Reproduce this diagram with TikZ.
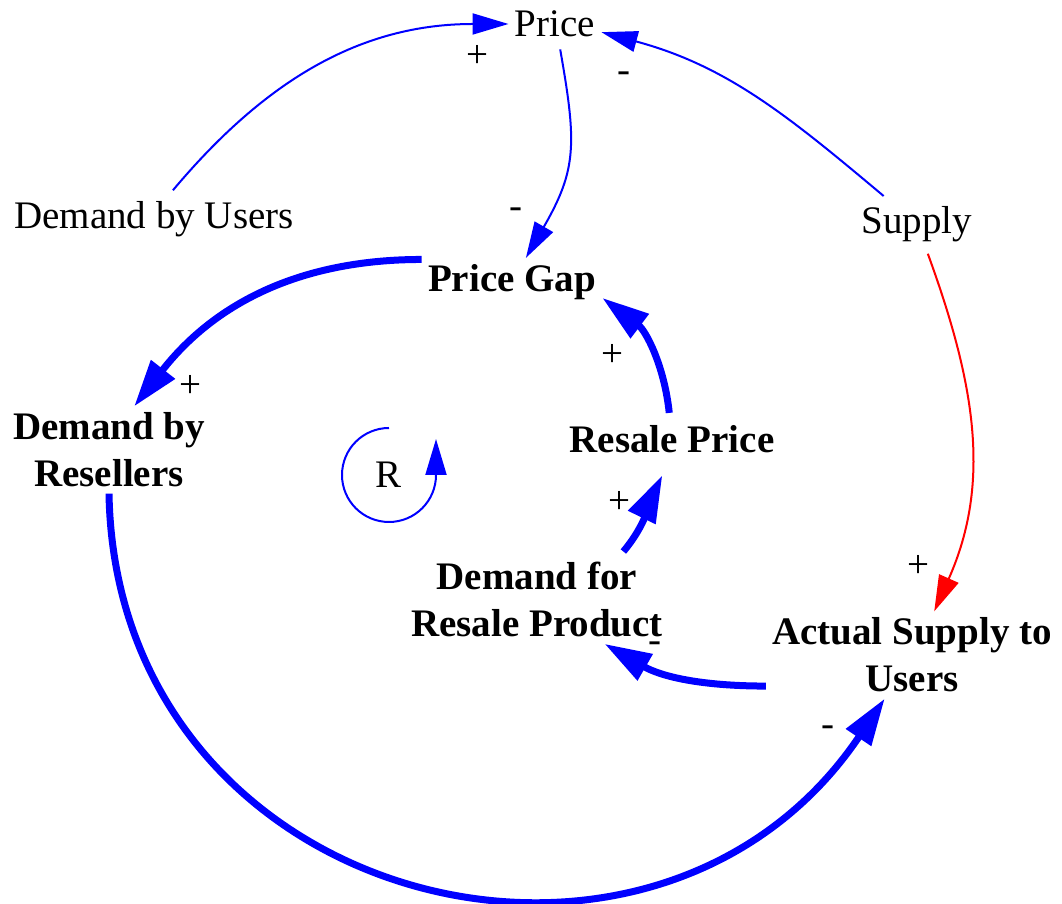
\documentclass[tikz,border=0pt]{standalone}
\usepackage{fontspec}
\setmainfont{Liberation Serif}
\usetikzlibrary{arrows.meta}
\newcommand\diagfont{\fontsize{19.5}{23.5}\selectfont}

\begin{document}
\begin{tikzpicture}[x=0.5pt,y=0.5pt,
        var/.style={font=\diagfont,inner sep=3pt,align=center},
        bvar/.style={var,font=\diagfont\bfseries},
        sign/.style={font=\diagfont,inner sep=1pt,text height=10pt,text depth=0pt},
        link/.style={color=blue,line width=1pt,shorten <=3pt,-{Triangle[length=18pt,width=10.5pt]}},
        rlink/.style={link,color=red},
        blink/.style={color=blue,line width=3.5pt,-{Triangle[length=23.5pt,width=14.5pt]}}]
    \useasboundingbox (0,0) rectangle (1062,904);

    \node[var] (price) at (555,880) {Price};
    \node[var] (dusers) at (154,685) {Demand by Users};
    \node[var] (supply) at (917,680) {Supply};
    \node[bvar] (gap) at (512,622) {Price Gap};
    \node[bvar] (dres) at (109,454) {Demand by\\Resellers};
    \node[bvar] (rprice) at (672,465) {Resale Price};
    \node[bvar] (dresale) at (537,304) {Demand for\\Resale Product};
    \node[bvar] (actual) at (912,249) {Actual Supply to\\Users};
    \node[var] (R) at (389,429) {R};

    \draw[link] (dusers.58) to[out=50,in=180] (price.west);
    \draw[link] (price.-78) to[out=-80,in=60,looseness=1.2] (gap.60);
    \draw[link] (supply.140) to[out=140,in=-15] (price.-10);
    \draw[rlink] (supply.-70) to[out=-70,in=66] (actual.63);
    \draw[blink] (gap.166) to[out=180,in=52] (dres.60);
    \draw[blink] (dres.south) to[out=-89,in=236,looseness=1.32] (actual.-122);
    \draw[blink] (actual.192) to[out=180,in=-30] (dresale.-33);
    \draw[blink,shorten <=3pt,shorten >=9pt] (dresale.28) to[out=50,in=-116] (rprice.-95);
    \draw[blink,shorten <=3pt] (rprice.96) to[out=96,in=-37] (gap.-10);
    \draw[link,shorten <=0pt] (R.center) ++(0,47) arc[start angle=90,end angle=360,radius=47] -- ++(0,36);

    \node[sign] (sprice) at (477,846) {+};
    \node[sign] (sgap) at (516,695) {-};
    \node[sign] (ssupply) at (624,831) {-};
    \node[sign] (sdres) at (190,516) {+};
    \node[sign] (srprice) at (612,547) {+};
    \node[sign] (sdresale) at (619,400) {+};
    \node[sign] (sproduct) at (655,261) {-};
    \node[sign] (sred) at (918,336) {+};
    \node[sign] (sactual) at (828,177) {-};
\end{tikzpicture}
\end{document}
